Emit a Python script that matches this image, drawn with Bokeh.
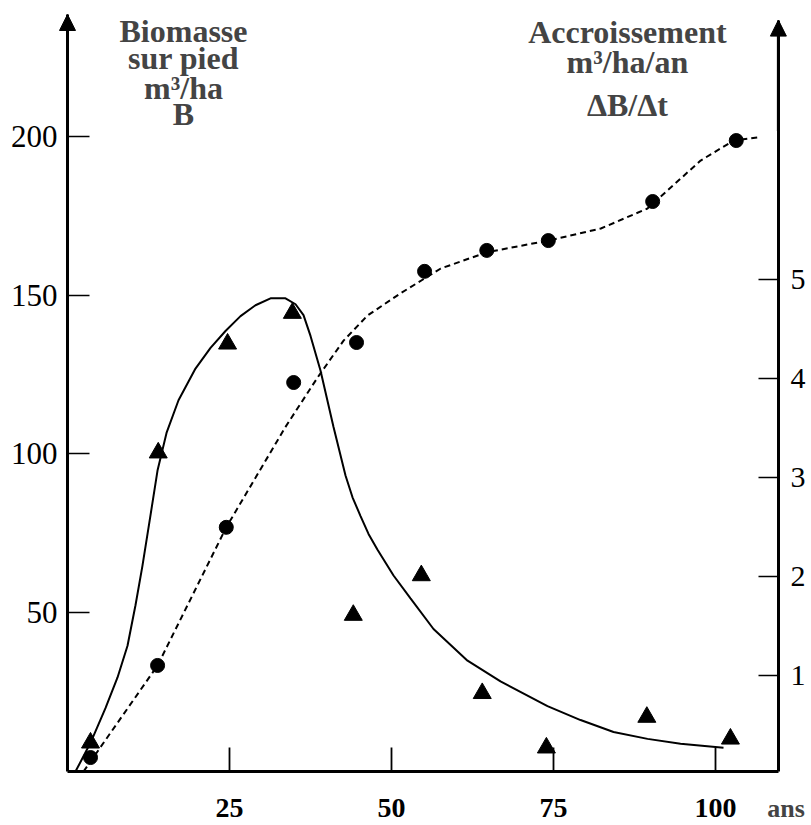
from bokeh.plotting import figure
from bokeh.models import Range1d, LinearAxis, FixedTicker, Label, Arrow, NormalHead
from bokeh.embed import file_html
from bokeh.resources import INLINE

# --- data ---
ages_B = [3.55, 13.9, 24.5, 34.9, 44.6, 55.1, 64.7, 74.2, 90.3, 103.2]
biomasse = [4.4, 33.4, 76.9, 122.5, 135.1, 157.5, 164.1, 167.2, 179.5, 198.7]

ages_A = [3.55, 14.0, 24.7, 34.7, 44.1, 54.6, 64.0, 73.9, 89.4, 102.3]
accroissement = [0.32, 3.25, 4.35, 4.66, 1.61, 2.01, 0.82, 0.27, 0.58, 0.36]

curve_B_age = [2.47, 13.9, 24.5, 33.6, 38.6, 42.6, 46.3, 51.4, 57.6, 64.7, 74.2, 82.3, 89.5,
               92.6, 97.7, 102.8, 106.5]
curve_B_val = [0, 33.4, 76.9, 108.4, 124.1, 135.7, 143.6, 150.6, 158.4, 163.5, 167.2, 171,
               177.3, 183, 192.4, 198.7, 199.7]

curve_A_age = [1.23, 3.55, 5.86, 7.72, 9.26, 10.49, 11.57, 12.81, 13.89, 15.28, 17.13, 19.75,
               22.07, 24.38, 26.7, 29.01, 31.33, 33.64, 35.19, 36.42, 37.5, 39.04, 41.05,
               42.9, 43.98, 45.22, 46.45, 47.84, 50.31, 52.93, 56.48, 61.73, 66.82, 74.07,
               79.17, 84.26, 89.51, 94.6, 101.23]
curve_A_val = [0.03, 0.32, 0.67, 0.98, 1.30, 1.71, 2.11, 2.62, 3.07, 3.45, 3.78, 4.10,
               4.31, 4.48, 4.63, 4.74, 4.81, 4.81, 4.75, 4.64, 4.43, 4.08, 3.51,
               3.02, 2.80, 2.61, 2.43, 2.27, 2.01, 1.78, 1.47, 1.15, 0.94, 0.69,
               0.55, 0.43, 0.36, 0.31, 0.27]

x_ticks = [25, 50, 75, 100]
left_ticks = [50, 100, 150, 200]
right_ticks = [1, 2, 3, 4, 5]

left_title = ["Biomasse", "sur pied", "m³/ha", "B"]
right_title = ["Accroissement", "m³/ha/an", "ΔB/Δt"]
x_unit = "ans"

FONT = "Liberation Serif"

X_MAX = 109.7      # right vertical axis (years)
B_TOP = 238.4      # top of left axis
A_TOP = 7.62       # top of right axis

p = figure(width=811, height=825, title=None,
           x_range=Range1d(-10.34, 114.81), y_range=Range1d(-17.0, 242.8),
           output_backend="svg", toolbar_location=None,
           min_border=0, min_border_left=0, min_border_right=0,
           min_border_top=0, min_border_bottom=0)
p.extra_y_ranges = {"acc": Range1d(-0.515, 7.818)}
p.outline_line_color = None
p.grid.visible = False
p.background_fill_color = "white"
p.border_fill_color = "white"

# bottom axis
xa = p.xaxis[0]
xa.fixed_location = 0
xa.bounds = (0, X_MAX)
xa.ticker = FixedTicker(ticks=x_ticks)
xa.major_tick_in = 24
xa.major_tick_out = 0
xa.minor_tick_line_color = None
xa.axis_line_width = 3
xa.major_tick_line_width = 1.8
xa.major_label_text_font = FONT
xa.major_label_text_font_style = "bold"
xa.major_label_text_font_size = "28px"
xa.major_label_text_color = "black"
xa.major_label_standoff = 27

# left axis
ya = p.yaxis[0]
ya.fixed_location = 0
ya.bounds = (0, B_TOP)
ya.ticker = FixedTicker(ticks=left_ticks)
ya.major_tick_in = 22
ya.major_tick_out = 0
ya.minor_tick_line_color = None
ya.axis_line_width = 3
ya.major_tick_line_width = 1.5
ya.major_label_text_font = FONT
ya.major_label_text_font_size = "31px"
ya.major_label_text_color = "black"
ya.major_label_standoff = 10

# right axis
ra = LinearAxis(y_range_name="acc", ticker=FixedTicker(ticks=right_ticks),
                fixed_location=X_MAX, bounds=(0.03, A_TOP))
ra.major_tick_in = 20
ra.major_tick_out = 0
ra.minor_tick_line_color = None
ra.axis_line_width = 3
ra.major_tick_line_width = 1.5
ra.major_label_text_font = FONT
ra.major_label_text_font_size = "30px"
ra.major_label_text_color = "black"
ra.major_label_standoff = 12
p.add_layout(ra, "right")

# curves and points
p.line(curve_A_age, curve_A_val, y_range_name="acc", line_color="black", line_width=2)
p.line(curve_B_age, curve_B_val, line_color="black", line_width=2, line_dash="6 4")
p.scatter(ages_B, biomasse, marker="circle", size=14, color="black")
p.scatter(ages_A, accroissement, marker="triangle", size=18, color="black", y_range_name="acc")

# arrow heads on the vertical axes
p.add_layout(Arrow(end=NormalHead(size=16, fill_color="black", line_color="black"),
                   x_start=0, y_start=200, x_end=0, y_end=B_TOP,
                   line_width=3, line_color="black"))
p.add_layout(Arrow(end=NormalHead(size=16, fill_color="black", line_color="black"),
                   x_start=X_MAX, y_start=6.5, x_end=X_MAX, y_end=A_TOP,
                   y_range_name="acc", line_width=3, line_color="black"))

# titles
for txt, yv in zip(left_title, [233.1, 224.6, 215.1, 207.2]):
    p.add_layout(Label(x=17.9, y=yv, text=txt, text_font=FONT, text_font_style="bold",
                       text_font_size="32px", text_align="center", text_baseline="middle"))
for txt, yv in zip(right_title, [232.8, 223.3, 209.8]):
    p.add_layout(Label(x=86.4, y=yv, text=txt, text_font=FONT, text_font_style="bold",
                       text_font_size="32px", text_align="center", text_baseline="middle"))
p.add_layout(Label(x=110.9, y=-11.6, text=x_unit, text_font=FONT, text_font_style="bold",
                   text_font_size="26px", text_align="center", text_baseline="middle"))

open("out.html", "w").write(file_html(p, INLINE))
